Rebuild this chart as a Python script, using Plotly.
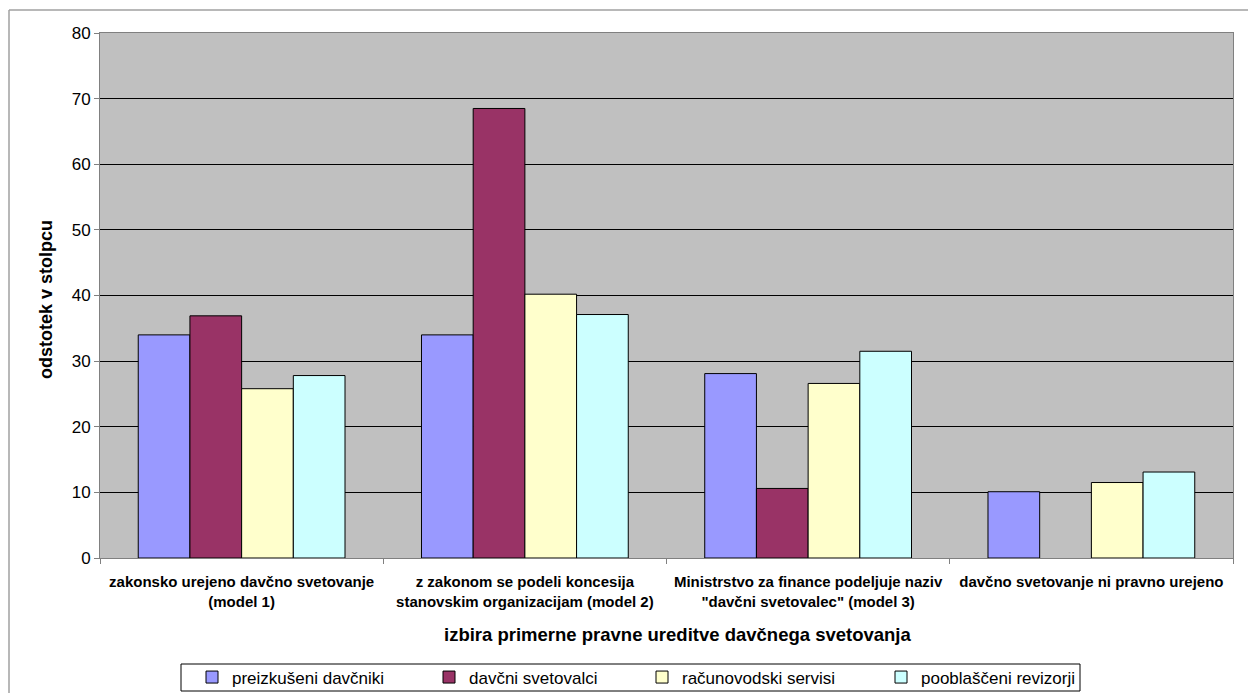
import plotly.graph_objects as go

# Categories (legal models for tax advisory) and respondent groups
categories = [
    "zakonsko urejeno davčno svetovanje<br>(model 1)",
    "z zakonom se podeli koncesija<br>stanovskim organizacijam (model 2)",
    "Ministrstvo za finance podeljuje naziv<br>\"davčni svetovalec\" (model 3)",
    "davčno svetovanje ni pravno urejeno",
]
series_names = [
    "preizkušeni davčniki",
    "davčni svetovalci",
    "računovodski servisi",
    "pooblaščeni revizorji",
]
preizkuseni_davcniki = [34.0, 34.0, 28.1, 10.1]
davcni_svetovalci = [36.9, 68.5, 10.6, None]
racunovodski_servisi = [25.8, 40.2, 26.6, 11.5]
pooblasceni_revizorji = [27.8, 37.1, 31.5, 13.1]
y_ticks = [0, 10, 20, 30, 40, 50, 60, 70, 80]

series_values = [preizkuseni_davcniki, davcni_svetovalci,
                 racunovodski_servisi, pooblasceni_revizorji]
colors = ["#9999FF", "#993366", "#FFFFCC", "#CCFFFF"]
legend_widths = [192, 168, 194, 160]

# Plot-area pixel geometry, used to place items given in page pixels
PL, PR, PT, PB = 100, 1233, 33, 558


def px_x(x):
    return (x - PL) / (PR - PL)


def px_y(y):
    return (PB - y) / (PB - PT)


fig = go.Figure()
for name, vals, col, lw in zip(series_names, series_values, colors, legend_widths):
    fig.add_trace(go.Bar(
        x=categories, y=vals, name=name, legendwidth=lw,
        marker=dict(color=col, line=dict(color="black", width=1)),
    ))

font_family = "Liberation Sans, Arial, sans-serif"

fig.update_layout(
    width=1248, height=693,
    margin=dict(l=PL, r=1248 - PR, t=PT, b=693 - PB, autoexpand=False),
    paper_bgcolor="white",
    plot_bgcolor="#C0C0C0",
    barmode="group",
    bargap=0.27,
    bargroupgap=0,
    font=dict(family=font_family, color="black"),
    showlegend=True,
    legend=dict(
        orientation="h",
        x=px_x(192), xanchor="left",
        y=px_y(677.5), yanchor="middle",
        borderwidth=0,
        bgcolor="rgba(0,0,0,0)",
        font=dict(size=17, family=font_family),
        itemwidth=30,
        traceorder="normal",
    ),
    xaxis=dict(
        automargin=False,
        showline=True, linecolor="#808080", linewidth=1, mirror=True,
        ticks="outside", tickson="boundaries", ticklen=5, tickcolor="#808080",
        tickfont=dict(size=15, family=font_family, weight="bold"),
        ticklabelstandoff=10,
        showgrid=False,
    ),
    yaxis=dict(
        automargin=False,
        range=[0, 80],
        tickvals=y_ticks,
        showline=True, linecolor="#808080", linewidth=1, mirror=True,
        ticks="outside", ticklen=5, tickcolor="#808080",
        tickfont=dict(size=17, family=font_family),
        showgrid=True, gridcolor="black", gridwidth=1,
        zeroline=False,
    ),
)

# Axis titles
fig.add_annotation(
    text="<b>izbira primerne pravne ureditve davčnega svetovanja</b>",
    xref="paper", yref="paper", x=px_x(678), y=px_y(634),
    xanchor="center", yanchor="middle", showarrow=False,
    font=dict(size=18.5, family=font_family),
)
fig.add_annotation(
    text="<b>odstotek v stolpcu</b>",
    xref="paper", yref="paper", x=px_x(46), y=px_y(300),
    xanchor="center", yanchor="middle", showarrow=False, textangle=-90,
    font=dict(size=18, family=font_family),
)

# Legend frame
fig.add_shape(type="rect", xref="paper", yref="paper", layer="below",
              x0=px_x(181), x1=px_x(1080), y0=px_y(664), y1=px_y(691),
              line=dict(color="black", width=1), fillcolor="white")

# Outer chart frame (top and left edges visible within the page)
frame_color = "#A0A0A0"
fig.add_shape(type="line", xref="paper", yref="paper",
              x0=px_x(9), x1=1.2, y0=px_y(10), y1=px_y(10),
              line=dict(color=frame_color, width=1.5))
fig.add_shape(type="line", xref="paper", yref="paper",
              x0=px_x(9), x1=px_x(9), y0=px_y(10), y1=-0.5,
              line=dict(color=frame_color, width=1.5))

fig.write_html("out.html")
